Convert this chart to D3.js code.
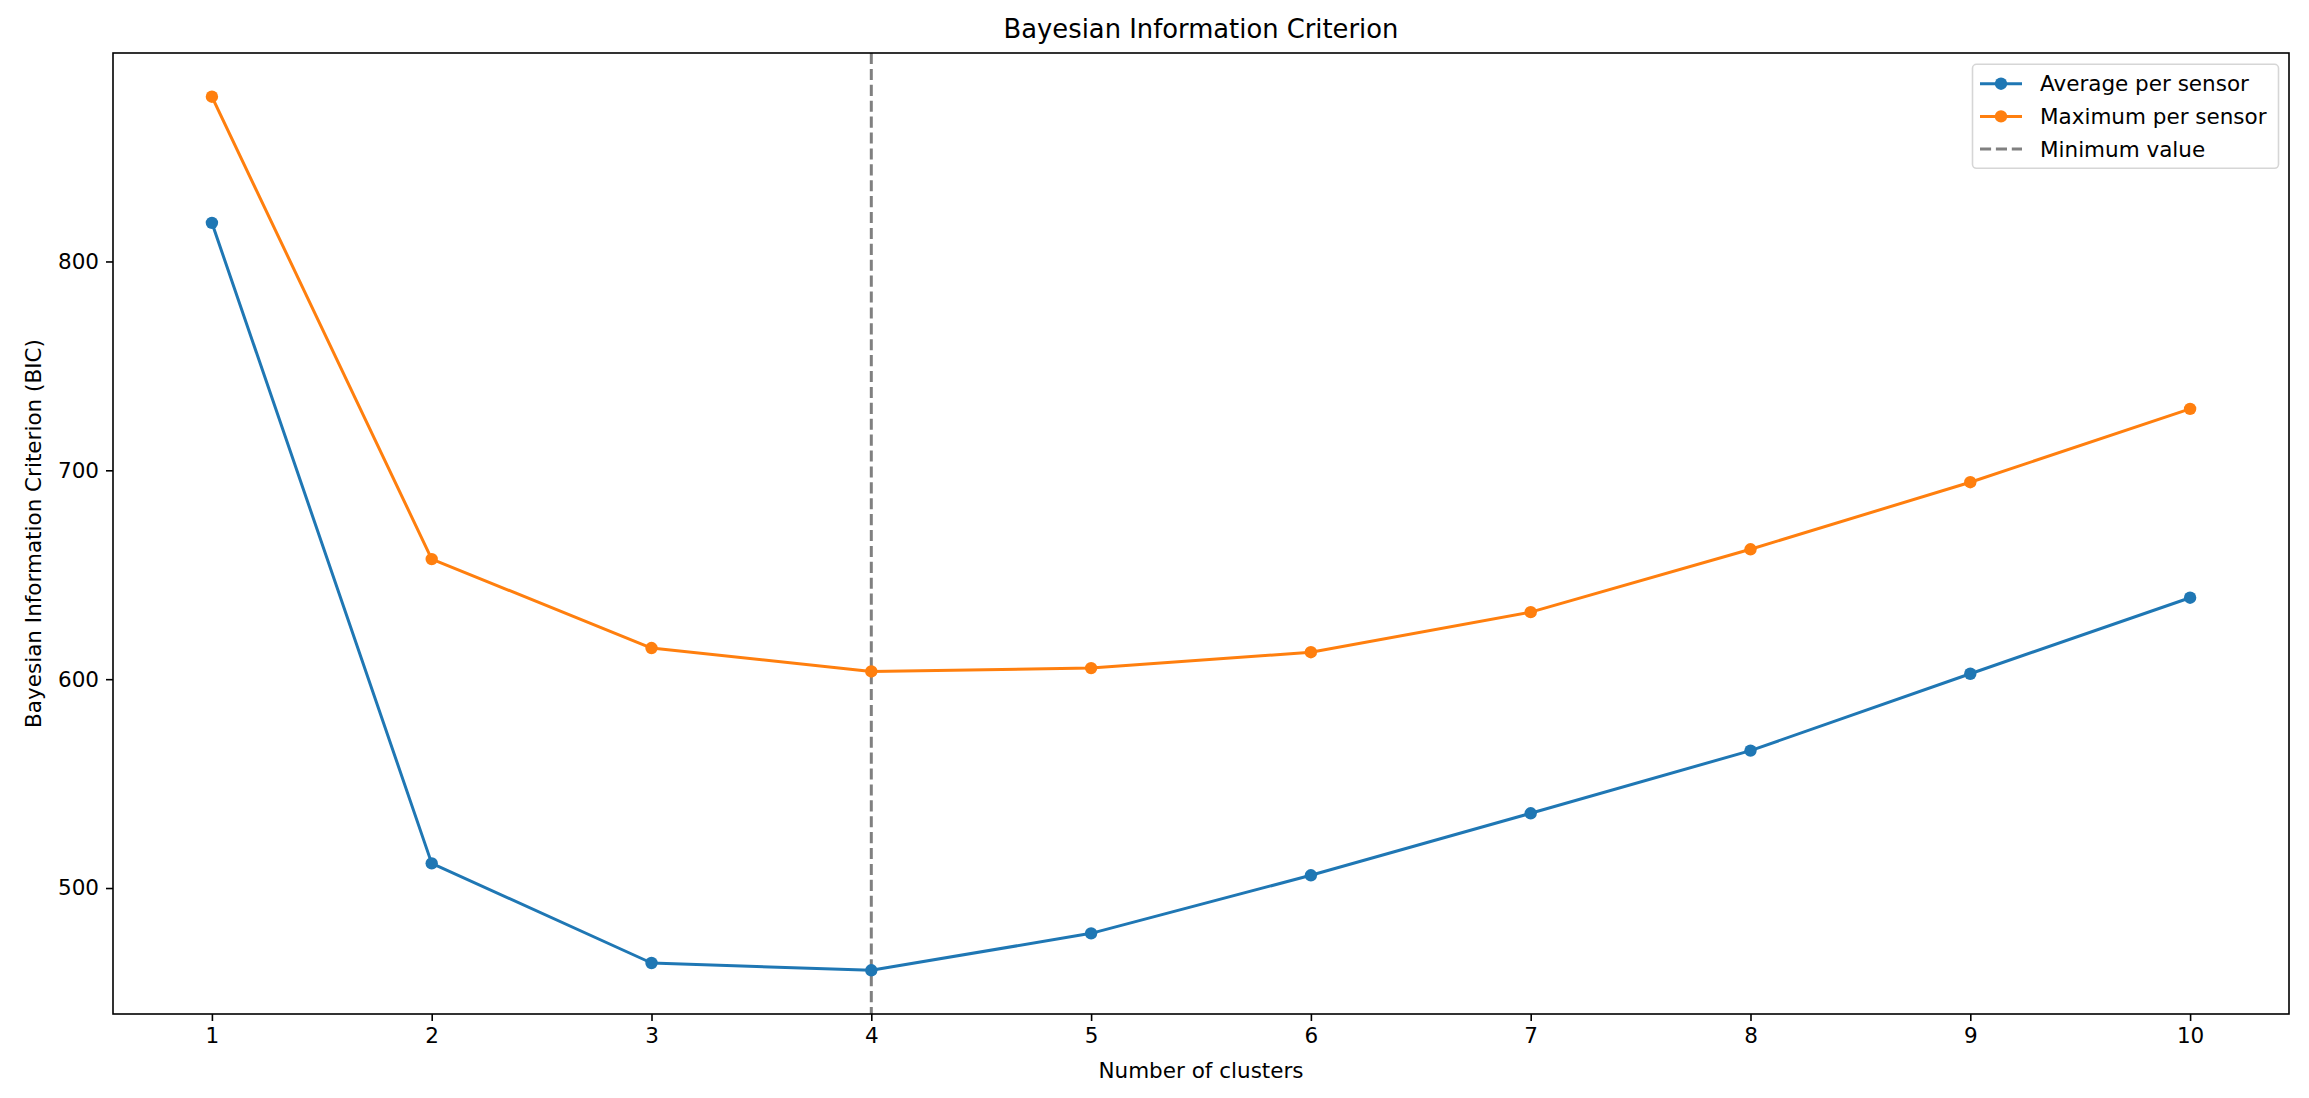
<!DOCTYPE html>
<html>
<head>
<meta charset="utf-8">
<script src="https://cdn.jsdelivr.net/npm/d3@7"></script>
<style>
  html, body { margin: 0; padding: 0; background: #fff; }
  svg { display: block; font-family: "DejaVu Sans", sans-serif; }
</style>
</head>
<body>
<svg id="chart" width="2309" height="1098"></svg>
<script>
// ---- data ----
const clusters = [1, 2, 3, 4, 5, 6, 7, 8, 9, 10];
const averagePerSensor = [818.5, 511.8, 464.1, 460.6, 478.3, 506.1, 535.8, 565.8, 602.6, 639.0];
const maximumPerSensor = [878.9, 657.5, 614.9, 603.7, 605.3, 612.9, 632.1, 662.2, 694.3, 729.4];
const minimumCluster = 4;
const yTicks = [500, 600, 700, 800];
const seriesNames = ["Average per sensor", "Maximum per sensor", "Minimum value"];
const titleText = "Bayesian Information Criterion";
const xLabelText = "Number of clusters";
const yLabelText = "Bayesian Information Criterion (BIC)";

// ---- layout ----
const m = { left: 113, right: 2289, top: 53, bottom: 1014 };
const blue = "#1f77b4", orange = "#ff7f0e", gray = "#808080";
const fs = "21.5px", titleFs = "25.8px";

const svg = d3.select("#chart");

const allVals = averagePerSensor.concat(maximumPerSensor);
const yMin = d3.min(allVals), yMax = d3.max(allVals);
const yPad = (yMax - yMin) * 0.05;
const xPad = (d3.max(clusters) - d3.min(clusters)) * 0.05;

const x = d3.scaleLinear()
  .domain([d3.min(clusters) - xPad, d3.max(clusters) + xPad])
  .range([m.left, m.right]);
const y = d3.scaleLinear()
  .domain([yMin - yPad, yMax + yPad])
  .range([m.bottom, m.top]);

svg.append("defs").append("clipPath").attr("id", "clip")
  .append("rect").attr("x", m.left).attr("y", m.top)
  .attr("width", m.right - m.left).attr("height", m.bottom - m.top);

const plot = svg.append("g").attr("clip-path", "url(#clip)");

// vertical minimum line
plot.append("line")
  .attr("x1", x(minimumCluster)).attr("x2", x(minimumCluster))
  .attr("y1", m.top).attr("y2", m.bottom)
  .attr("stroke", gray).attr("stroke-width", 3)
  .attr("stroke-dasharray", "11.1,4.8");

const line = d3.line().x((d, i) => x(clusters[i])).y(d => y(d));

function drawSeries(vals, color) {
  plot.append("path").datum(vals)
    .attr("d", line).attr("fill", "none")
    .attr("stroke", color).attr("stroke-width", 3)
    .attr("stroke-linejoin", "round").attr("stroke-linecap", "square");
  plot.selectAll(null).data(vals).enter().append("circle")
    .attr("cx", (d, i) => x(clusters[i])).attr("cy", d => y(d))
    .attr("r", 6.2).attr("fill", color);
}
drawSeries(averagePerSensor, blue);
drawSeries(maximumPerSensor, orange);

// axes
const xAxis = d3.axisBottom(x).tickValues(clusters).tickFormat(d3.format("d"))
  .tickSize(7).tickPadding(7).tickSizeOuter(0);
const yAxis = d3.axisLeft(y).tickValues(yTicks).tickFormat(d3.format("d"))
  .tickSize(7).tickPadding(7).tickSizeOuter(0);

const gx = svg.append("g").attr("transform", `translate(0,${m.bottom})`).call(xAxis);
const gy = svg.append("g").attr("transform", `translate(${m.left},0)`).call(yAxis);
[gx, gy].forEach(g => {
  g.select(".domain").remove();
  g.selectAll(".tick line").attr("stroke", "#000").attr("stroke-width", 1.6);
  g.selectAll(".tick text").attr("fill", "#000")
    .style("font-family", "DejaVu Sans").style("font-size", fs);
});

// spines
svg.append("rect")
  .attr("x", m.left).attr("y", m.top)
  .attr("width", m.right - m.left).attr("height", m.bottom - m.top)
  .attr("fill", "none").attr("stroke", "#000").attr("stroke-width", 1.6);

// title and labels
svg.append("text").attr("x", (m.left + m.right) / 2).attr("y", 38)
  .attr("text-anchor", "middle").style("font-size", titleFs).attr("fill", "#000")
  .text(titleText);
svg.append("text").attr("x", (m.left + m.right) / 2).attr("y", 1077.5)
  .attr("text-anchor", "middle").style("font-size", fs).attr("fill", "#000")
  .text(xLabelText);
svg.append("text")
  .attr("transform", `translate(40.5,${(m.top + m.bottom) / 2}) rotate(-90)`)
  .attr("text-anchor", "middle").style("font-size", fs).attr("fill", "#000")
  .text(yLabelText);

// legend
const lg = svg.append("g");
const lgLeft = 1972.5, lgTop = 64.3, lgRight = 2278.5, lgBottom = 168.3;
lg.append("rect")
  .attr("x", lgLeft).attr("y", lgTop)
  .attr("width", lgRight - lgLeft).attr("height", lgBottom - lgTop)
  .attr("rx", 4).attr("ry", 4)
  .attr("fill", "#fff").attr("fill-opacity", 0.8)
  .attr("stroke", "#d6d6d6").attr("stroke-width", 1.6);

const rowY = [83.7, 116.4, 149.1];
const legendItems = [
  { name: seriesNames[0], color: blue, marker: true, dash: null },
  { name: seriesNames[1], color: orange, marker: true, dash: null },
  { name: seriesNames[2], color: gray, marker: false, dash: "11.1,4.8" }
];
legendItems.forEach((it, i) => {
  const cy = rowY[i];
  lg.append("line").attr("x1", 1980).attr("x2", 2022).attr("y1", cy).attr("y2", cy)
    .attr("stroke", it.color).attr("stroke-width", 3)
    .attr("stroke-dasharray", it.dash);
  if (it.marker) {
    lg.append("circle").attr("cx", 2001).attr("cy", cy).attr("r", 6.2).attr("fill", it.color);
  }
  lg.append("text").attr("x", 2040).attr("y", cy + 7.5)
    .style("font-size", fs).attr("fill", "#000").text(it.name);
});
</script>
</body>
</html>
